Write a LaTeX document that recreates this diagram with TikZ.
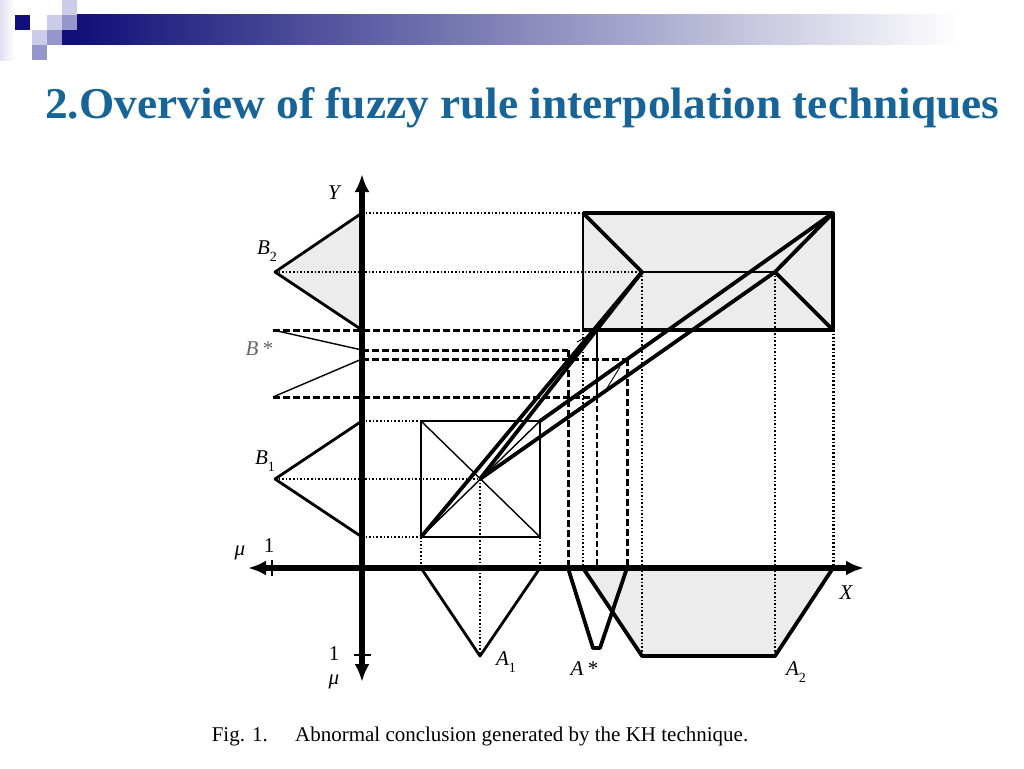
\documentclass[tikz,border=0pt]{standalone}
\usepackage{fontspec}
\setmainfont{Liberation Serif}
\usetikzlibrary{arrows.meta}
\definecolor{titleblue}{RGB}{22,100,152}
\definecolor{navy}{RGB}{16,16,120}
\definecolor{lav}{RGB}{204,204,232}
\definecolor{midlav}{RGB}{150,150,204}
\definecolor{fuzzy}{RGB}{236,236,236}
\newcommand{\lowidx}[1]{\raisebox{-0.3em}{\upshape\fontsize{14}{14}\selectfont #1}}
\begin{document}
\begin{tikzpicture}[x=1pt,y=-1pt]
\useasboundingbox (0,0) rectangle (1024,768);
% slide header
\shade[left color=lav!60,right color=white] (0,0) rectangle (15,60);
\shade[left color=navy,right color=white] (77,15) rectangle (960,45);
\fill[navy] (15,15) rectangle (30,30);
\fill[navy] (62,30) rectangle (77,45);
\fill[lav] (47,15) rectangle (62,30);
\fill[lav] (62,0) rectangle (77,15);
\fill[lav] (32,30) rectangle (47,45);
\fill[midlav] (62,15) rectangle (77,30);
\fill[midlav] (47,30) rectangle (62,45);
\fill[midlav] (32,45) rectangle (47,60);
\node [anchor=base west,inner sep=0pt,text=titleblue,font=\fontsize{44}{50}\selectfont\bfseries] (title) at (45,118)
  {\scalebox{1.03}[1]{2.Overview of fuzzy rule interpolation techniques}};

\begin{scope}[line join=round,
              axis/.style={line width=5.2pt,-{Latex[length=18pt,width=15pt]}},
              mf/.style={line width=2.8pt},
              kh/.style={line width=3.8pt},
              thinln/.style={line width=1.4pt},
              dots/.style={line width=2pt,dash pattern=on 1.6pt off 2pt},
              dashln/.style={line width=3pt,dash pattern=on 7pt off 3pt},
              thindash/.style={line width=1.3pt,dash pattern=on 6pt off 3pt},
              lbl/.style={font=\fontsize{21}{21}\selectfont\itshape,inner sep=0pt}]
    % origin and axis ends
    \coordinate (O) at (362,568);
    \coordinate (ytop) at (362,174);
    \coordinate (ybot) at (362,682);
    \coordinate (xleft) at (248,568);
    \coordinate (xright) at (864,568);
    % B1, B2 on the Y axis
    \coordinate (b2t) at (362,213);
    \coordinate (b2c) at (275,272);
    \coordinate (b2b) at (362,330);
    \coordinate (b1t) at (362,421);
    \coordinate (b1c) at (275,479);
    \coordinate (b1b) at (362,537);
    % B*
    \coordinate (bs1) at (273,330);
    \coordinate (bs2) at (362,350);
    \coordinate (bs3) at (362,359);
    \coordinate (bs4) at (273,397);
    % rule 1 box
    \coordinate (r1ul) at (421,421);
    \coordinate (r1ur) at (540,421);
    \coordinate (r1ll) at (421,537);
    \coordinate (r1lr) at (540,537);
    \coordinate (r1c) at (480,479);
    % rule 2 box
    \coordinate (r2ul) at (583,213);
    \coordinate (r2ur) at (833,213);
    \coordinate (r2ll) at (583,330);
    \coordinate (r2lr) at (833,330);
    \coordinate (r2cl) at (642,272);
    \coordinate (r2cr) at (775,272);
    % A1, A2, A* on the X axis
    \coordinate (a1l) at (421,568);
    \coordinate (a1c) at (480,656);
    \coordinate (a1r) at (540,568);
    \coordinate (a2l) at (583,568);
    \coordinate (a2cl) at (642,656);
    \coordinate (a2cr) at (775,656);
    \coordinate (a2r) at (833,568);
    \coordinate (asl) at (568,568);
    \coordinate (ascl) at (593,648);
    \coordinate (ascr) at (600,648);
    \coordinate (asr) at (627,568);
    \coordinate (asc) at (597,568);
    % projections of B*
    \coordinate (p1) at (568,350);
    \coordinate (p2) at (627,359);
    \coordinate (p3) at (597,397);
    \coordinate (p4) at (597,330);
    % grey areas
    \fill[fuzzy] (b2t) -- (b2c) -- (b2b) -- cycle;
    \fill[fuzzy] (r2ul) rectangle (r2lr);
    \fill[fuzzy] (a2l) -- (a2cl) -- (a2cr) -- (a2r) -- cycle;
    % dotted projections
    \draw[dots] (b2t) -- (r2ul);
    \draw[dots] (b2c) -- (r2cl);
    \draw[dots] (b1t) -- (r1ul);
    \draw[dots,line width=2.6pt] (b1c) -- (r1c);
    \draw[dots] (b1b) -- (r1ll);
    \draw[dots,line width=2.6pt] (r1ll) -- (a1l);
    \draw[dots] (r1c) -- (a1c);
    \draw[dots] (r1lr) -- (a1r);
    \draw[dots] (r2ll) -- (a2l);
    \draw[dots] (r2cl) -- (a2cl);
    \draw[dots] (r2cr) -- (a2cr);
    \draw[dots,line width=3pt] (r2lr) -- (a2r);
    % dashed B* lines
    \draw[dashln] (bs1) -- (r2ll);
    \draw[dashln] (bs2) -- (p1);
    \draw[dashln] (bs3) -- (p2);
    \draw[dashln] (bs4) -- (p3);
    \draw[dashln] (p1) -- (asl);
    \draw[dashln] (p2) -- (asr);
    \draw[thinln] (p4) -- (p3);
    \draw[thindash] (p3) -- (asc);
    \draw[thinln] (bs1) -- (bs2);
    \draw[thinln] (bs4) -- (bs3);
    % rule boxes
    \draw[thinln,line width=2pt] (r1ul) rectangle (r1lr);
    \draw[thinln] (r1ul) -- (r1lr);
    \draw[thinln] (r1ur) -- (r1ll);
    \draw[thinln] (r2ul) -- (r2ll);
    \draw[mf,line width=3.2pt] (r2ul) -- (r2ur) -- (r2lr) -- (r2ll);
    \draw[kh] (r2ul) -- (r2cl);
    \draw[thinln] (r2cl) -- (r2cr);
    \draw[kh] (r2ur) -- (r2cr) -- (r2lr);
    % membership functions
    \draw[mf] (b2t) -- (b2c) -- (b2b);
    \draw[mf] (b1t) -- (b1c) -- (b1b);
    \draw[mf] (a1l) -- (a1c) -- (a1r);
    \draw[kh] (a2l) -- (a2cl) -- (a2cr) -- (a2r);
    \draw[kh] (asl) -- (ascl) -- (ascr) -- (asr);
    % KH interpolation lines
    \draw[kh] (r1ll) -- (r2cl);
    \draw[kh] (r1c) -- (r2cl);
    \draw[kh] (r1c) -- (r2cr);
    \draw[kh] (r1ur) -- (r2ur);
    \coordinate (s1) at (590,335);
    \coordinate (s2) at (577,342);
    \coordinate (s3) at (620,367);
    \coordinate (s4) at (607,388);
    \draw[line width=0.9pt] (s1) -- (s2);
    \draw[line width=0.9pt] (s3) -- (s4);
    % axes
    \draw[axis] (O) -- (ytop);
    \draw[axis] (O) -- (ybot);
    \draw[axis] (O) -- (xleft);
    \draw[axis] (O) -- (xright);
    \coordinate (tk1) at (272,560);
    \coordinate (tk2) at (272,576);
    \coordinate (tk3) at (354,655);
    \coordinate (tk4) at (371,655);
    \draw[line width=1.4pt] (tk1) -- (tk2);
    \draw[line width=1.4pt] (tk3) -- (tk4);
    % labels
    \node[lbl] (ylab) at (334,193) {Y};
    \node[lbl] (xlab) at (846,593) {X};
    \node[lbl] (b2lab) at (267,251) {B\lowidx{2}};
    \node[lbl] (b1lab) at (265,461) {B\lowidx{1}};
    \node[lbl,text=black!60] (bslab) at (259,349) {B\,*};
    \node[lbl] (a1lab) at (506,662) {A\lowidx{1}};
    \node[lbl] (aslab) at (584,669) {A\,*};
    \node[lbl] (a2lab) at (796,672) {A\lowidx{2}};
    \node[lbl] (mul) at (240,553) {μ};
    \node[lbl,font=\fontsize{21}{21}\selectfont] (onel) at (269,546) {1};
    \node[lbl,font=\fontsize{21}{21}\selectfont] (oneb) at (334,654) {1};
    \node[lbl] (mub) at (334,682) {μ};
\end{scope}
\node [font=\fontsize{21}{21}\selectfont] (caption) at (480,736)
  {Fig. 1.\hspace{1.3em}Abnormal conclusion generated by the KH technique.};
\end{tikzpicture}
\end{document}
